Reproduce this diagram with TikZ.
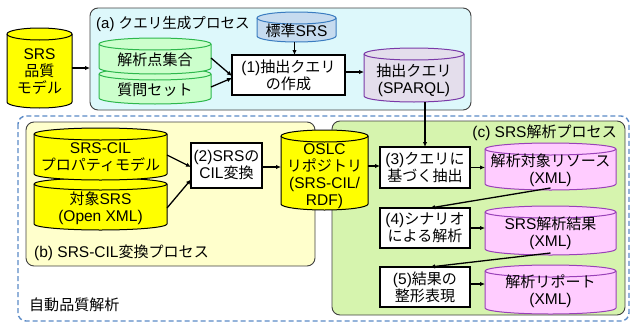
\documentclass[tikz,border=0pt]{standalone}
\usepackage{fontspec}
\setmainfont{Liberation Sans}
\newfontfamily\cjkfont[Scale=0.97]{Noto Sans CJK JP}
\XeTeXinterchartokenstate=1
\newXeTeXintercharclass\CJKcls
\count255="3000 \loop\XeTeXcharclass\count255=\CJKcls\ifnum\count255<"30FF \advance\count255 by 1 \repeat
\count255="4E00 \loop\XeTeXcharclass\count255=\CJKcls\ifnum\count255<"9FFF \advance\count255 by 1 \repeat
\count255="FF00 \loop\XeTeXcharclass\count255=\CJKcls\ifnum\count255<"FFEF \advance\count255 by 1 \repeat
\XeTeXinterchartoks 0 \CJKcls = {\cjkfont}
\XeTeXinterchartoks 4095 \CJKcls = {\cjkfont}
\XeTeXinterchartoks \CJKcls 0 = {\rmfamily}
\XeTeXinterchartoks \CJKcls 4095 = {\rmfamily}
\usetikzlibrary{arrows.meta,calc}
\definecolor{yel}{HTML}{FFFF00}
\definecolor{regA}{HTML}{DDF8FB}
\definecolor{regB}{HTML}{FFFFCC}
\definecolor{regC}{HTML}{D6F4AE}
\definecolor{regBorder}{HTML}{404040}
\definecolor{dashBlue}{HTML}{5A8AC6}
\definecolor{stdFill}{HTML}{C6DBEF}
\definecolor{stdDraw}{HTML}{3A7CC0}
\definecolor{grnFill}{HTML}{CCFFCC}
\definecolor{grnDraw}{HTML}{2DB84C}
\definecolor{purFill}{HTML}{E4DEEC}
\definecolor{purDraw}{HTML}{7A3AA8}
\definecolor{pinkFill}{HTML}{FFCCFF}
\definecolor{pinkDraw}{HTML}{9940B8}
\tikzset{
  txt/.style={align=center,inner sep=0pt,font=\fontsize{15.5}{17}\selectfont},
  region/.style={rounded corners=8pt,draw=regBorder,line width=0.9pt,inner sep=0pt,outer sep=0pt},
  procbox/.style={draw=black,fill=white,line width=1.5pt,inner sep=0pt,outer sep=0pt,align=center,font=\fontsize{15.5}{17}\selectfont},
  conn/.style={line width=1.3pt,-{Latex[length=5pt,width=4.5pt]}},
  lbl/.style={inner sep=0pt,font=\fontsize{15.5}{17}\selectfont}
}
% cylinder: name, cx, cy, w, h, fill, draw, text-yoffset, text
\newcommand\mycyl[9]{%
  \node[minimum width=#4pt,minimum height=#5pt,inner sep=0pt,outer sep=0pt] (#1) at (#2pt,-#3pt) {};
  \draw[fill=#6,draw=#7,line width=1pt]
    ([yshift=-6pt]#1.north west) -- ([yshift=6pt]#1.south west)
    arc[start angle=180,end angle=360,x radius=#4pt/2,y radius=6pt]
    -- ([yshift=-6pt]#1.north east)
    arc[start angle=0,end angle=180,x radius=#4pt/2,y radius=6pt] -- cycle;
  \draw[draw=#7,line width=1pt] ([yshift=-6pt]#1.north west)
    arc[start angle=180,end angle=360,x radius=#4pt/2,y radius=6pt];
  \node[txt] (#1-t) at ([yshift=-#8pt]#1.center) {#9};
}
\begin{document}
\begin{tikzpicture}[x=1pt,y=1pt]
\useasboundingbox (0,0) rectangle (631,-324);
% regions
\node[region,fill=regA,minimum width=381pt,minimum height=102pt] (ra) at (280.5,-59) {};
\draw[dashBlue,line width=1.4pt,dash pattern=on 5pt off 3pt,rounded corners=8pt] (18,-116) rectangle (629,-321);
\coordinate (outer) at (18,-116);
\node[region,fill=regB,minimum width=289pt,minimum height=144pt] (rb) at (170.5,-194) {};
\node[region,fill=regC,minimum width=293pt,minimum height=194pt] (rc) at (478.5,-218) {};
% labels
\node[lbl,anchor=west,font=\fontsize{15}{17}\selectfont] (la) at (96,-24) {(a) クエリ生成プロセス};
\node[lbl,anchor=west] (lb) at (34,-253) {(b) SRS-CIL変換プロセス};
\node[lbl,anchor=east] (lc) at (617,-133) {(c) SRS解析プロセス};
\node[lbl,anchor=west] (lo) at (29,-305) {自動品質解析};
% cylinders
\mycyl{srsm}{39.5}{68}{65}{80}{yel}{black}{4}{\fontsize{15.5}{20}\selectfont SRS\\品質\\モデル}
\mycyl{std}{296.5}{27}{79}{30}{stdFill}{stdDraw}{4}{標準SRS}
\mycyl{qs}{155}{86}{112}{36}{grnFill}{grnDraw}{4}{質問セット}
\mycyl{kp}{155}{56}{112}{36}{grnFill}{grnDraw}{4}{解析点集合}
\mycyl{sq}{414}{75}{100}{54}{purFill}{purDraw}{5}{抽出クエリ\\(SPARQL)}
\mycyl{tg}{100.5}{204}{133}{52}{yel}{black}{4}{対象SRS\\(Open XML)}
\mycyl{cil}{100.5}{154}{133}{52}{yel}{black}{3}{SRS-CIL\\プロパティモデル}
\mycyl{oslc}{324.5}{170}{87}{80}{yel}{black}{6}{\fontsize{15.5}{16}\selectfont OSLC\\リポジトリ\\(SRS-CIL/\\RDF)}
\mycyl{res}{550.5}{166.5}{131}{47}{pinkFill}{pinkDraw}{4}{解析対象リソース\\(XML)}
\mycyl{ana}{550.5}{230.5}{131}{49}{pinkFill}{pinkDraw}{3}{SRS解析結果\\(XML)}
\mycyl{rep}{550.5}{289.5}{131}{49}{pinkFill}{pinkDraw}{2}{解析リポート\\(XML)}
% process boxes
\node[procbox,minimum width=113pt,minimum height=40pt] (p1) at (288.5,-75) {(1)抽出クエリ\\の作成};
\node[procbox,minimum width=71pt,minimum height=45pt] (p2) at (226.5,-165.5) {(2)SRSの\\CIL変換};
\node[procbox,minimum width=90pt,minimum height=41pt] (p3) at (425,-167.5) {(3)クエリに\\基づく抽出};
\node[procbox,minimum width=90pt,minimum height=40pt] (p4) at (425,-228) {(4)シナリオ\\による解析};
\node[procbox,minimum width=90pt,minimum height=40pt] (p5) at (425,-287) {(5)結果の\\整形表現};
% connectors
\draw[conn] (srsm.east) -- (srsm.east -| ra.west);
\draw[conn] ([yshift=-2pt]kp.east) -- ([yshift=-1pt]p1.west);
\draw[conn] ([yshift=-1pt]qs.east) -- ([yshift=-3pt]p1.west);
\draw[conn] ([xshift=-2pt]std.south) -- ([xshift=-2pt]std.south |- p1.north);
\draw[conn] ([yshift=3pt]p1.east) -- ([yshift=3pt]p1.east -| sq.west);
\draw[conn] (sq.south -| p3.north) -- (p3.north);
\draw[conn] ([yshift=-1pt]cil.east) -- ([yshift=-1.5pt]p2.west);
\draw[conn] ([yshift=-4pt]tg.east) -- ([yshift=-14pt]p2.west);
\draw[conn] ([yshift=-1.5pt]p2.east) -- ([yshift=-1.5pt]p2.east -| oslc.west);
\draw[conn] ([yshift=1.5pt]p3.west -| oslc.east) -- ([yshift=1.5pt]p3.west);
\draw[conn] (p3.east) -- (p3.east -| res.west);
\draw[conn] ([yshift=2pt]res.south) -- ([xshift=5pt]p4.north);
\draw[conn] (p4.east) -- (p4.east -| ana.west);
\draw[conn] ([yshift=2pt]ana.south) -- ([xshift=5pt]p5.north);
\draw[conn] ([yshift=3pt]p5.east) -- ([yshift=3pt]p5.east -| rep.west);
\end{tikzpicture}
\end{document}
